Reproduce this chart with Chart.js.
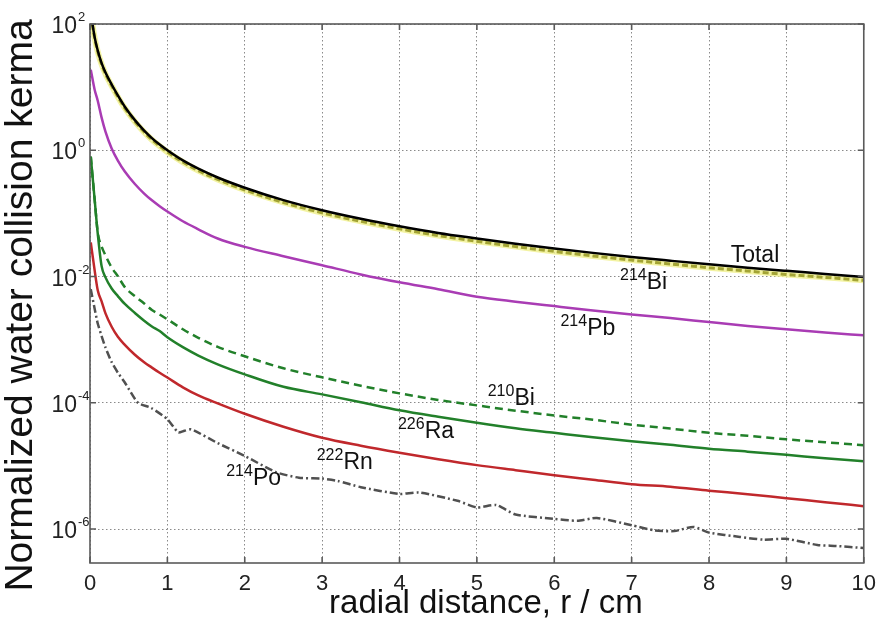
<!DOCTYPE html>
<html>
<head>
<meta charset="utf-8">
<title>Normalized water collision kerma</title>
<script src="https://cdn.jsdelivr.net/npm/chart.js@4.4.0/dist/chart.umd.min.js"></script>
<style>
    html, body { margin: 0; padding: 0; background: #fff; }
</style>
</head>
<body>
<canvas id="kermaChart" width="884" height="624"></canvas>
<script>
// radial distance (cm) sample points for the smooth curves
const radius = [0.01, 0.06, 0.1, 0.15, 0.2, 0.28, 0.36, 0.45, 0.58, 0.7, 0.8, 0.9, 1.0, 1.2, 1.4, 1.65, 2.0, 2.5, 3.0, 3.5, 4.0, 4.5, 5.0, 5.5, 6.0, 6.5, 7.0, 7.5, 8.0, 8.5, 9.0, 9.5, 10.0];

const total = [150, 62, 38, 24, 17, 11, 7.4, 4.9, 3.0, 2.05, 1.56, 1.23, 1.0, 0.69, 0.51, 0.37, 0.255, 0.162, 0.112, 0.082, 0.0625, 0.049, 0.040, 0.033, 0.0278, 0.0237, 0.0204, 0.0178, 0.0156, 0.0138, 0.0123, 0.011, 0.0098];
const bi214 = [140, 60, 36.5, 23, 16.2, 10.5, 7.0, 4.65, 2.85, 1.94, 1.47, 1.16, 0.94, 0.65, 0.475, 0.345, 0.235, 0.149, 0.102, 0.075, 0.057, 0.0446, 0.0362, 0.0298, 0.025, 0.0212, 0.0182, 0.0158, 0.0138, 0.0122, 0.0108, 0.0097, 0.0087];
const pb214 = [18.9, 9.1, 6.1, 3.29, 1.98, 1.07, 0.687, 0.46, 0.292, 0.206, 0.161, 0.130, 0.107, 0.075, 0.056, 0.040, 0.0295, 0.021, 0.0151, 0.0108, 0.0081, 0.0063, 0.0048, 0.0040, 0.0034, 0.0029, 0.0025, 0.0022, 0.0019, 0.00165, 0.00146, 0.0013, 0.00117];
const bi210 = [0.79, 0.166, 0.05, 0.030, 0.0216, 0.0139, 0.0101, 6.8e-3, 4.9e-3, 3.75e-3, 2.96e-3, 2.5e-3, 2.1e-3, 1.46e-3, 1.07e-3, 7.7e-4, 5.45e-4, 3.52e-4, 2.53e-4, 1.86e-4, 1.41e-4, 1.11e-4, 9.1e-5, 7.5e-5, 6.3e-5, 5.4e-5, 4.5e-5, 3.9e-5, 3.35e-5, 3.0e-5, 2.64e-5, 2.37e-5, 2.12e-5];
const ra226 = [0.79, 0.166, 0.048, 0.0146, 9.7e-3, 6.45e-3, 4.9e-3, 3.68e-3, 2.65e-3, 2.0e-3, 1.62e-3, 1.37e-3, 1.09e-3, 7.6e-4, 5.6e-4, 4.07e-4, 2.82e-4, 1.79e-4, 1.36e-4, 1.02e-4, 7.6e-5, 6.0e-5, 4.83e-5, 3.96e-5, 3.35e-5, 2.84e-5, 2.46e-5, 2.16e-5, 1.87e-5, 1.68e-5, 1.5e-5, 1.32e-5, 1.19e-5];
const rn222 = [0.0347, 0.0125, 6.07e-3, 4.03e-3, 2.61e-3, 1.6e-3, 1.11e-3, 8.28e-4, 5.77e-4, 4.38e-4, 3.61e-4, 2.99e-4, 2.51e-4, 1.76e-4, 1.31e-4, 9.8e-5, 6.7e-5, 4.17e-5, 2.79e-5, 2.09e-5, 1.62e-5, 1.28e-5, 1.03e-5, 8.55e-6, 7.13e-6, 6.05e-6, 5.13e-6, 4.68e-6, 4.06e-6, 3.57e-6, 3.08e-6, 2.67e-6, 2.3e-6];

// 214Po is noisy, so it has its own sample points
const poRadius = [0.01, 0.06, 0.1, 0.15, 0.2, 0.28, 0.36, 0.45, 0.62, 0.79, 1.0, 1.14, 1.22, 1.31, 1.65, 2.0, 2.4, 2.7, 3.0, 3.2, 3.5, 4.0, 4.25, 4.75, 5.0, 5.25, 5.5, 6.0, 6.3, 6.55, 7.0, 7.3, 7.55, 7.8, 8.0, 8.4, 8.7, 9.0, 9.4, 9.65, 10.0];
const po214 = [0.0063, 0.0031, 0.0018, 0.00114, 7.5e-4, 4.4e-4, 3.0e-4, 2.1e-4, 1.0e-4, 8.3e-5, 5.5e-5, 3.4e-5, 3.6e-5, 3.8e-5, 2.3e-5, 1.44e-5, 8.0e-6, 6.5e-6, 6.3e-6, 5.8e-6, 4.6e-6, 3.6e-6, 3.8e-6, 2.8e-6, 2.2e-6, 2.4e-6, 1.7e-6, 1.45e-6, 1.35e-6, 1.5e-6, 1.15e-6, 9.5e-7, 9.3e-7, 1.08e-6, 8.8e-7, 7.5e-7, 6.8e-7, 7.0e-7, 5.6e-7, 5.4e-7, 5.0e-7];

// axis ticks
const xTicks = [0, 1, 2, 3, 4, 5, 6, 7, 8, 9, 10];
const yTicks = [1e-6, 1e-4, 1e-2, 1, 100];

// curve labels: mass number, symbol, and where the text sits (data units, left / baseline)
const labelMass = ['', '214', '214', '210', '226', '222', '214'];
const labelSym = ['Total', 'Bi', 'Pb', 'Bi', 'Ra', 'Rn', 'Po'];
const labelR = [8.28, 6.85, 6.08, 5.14, 3.98, 2.93, 1.76];
const labelK = [0.0173, 6.25e-3, 1.19e-3, 9.1e-5, 2.74e-5, 9.0e-6, 4.95e-6];

const xTitle = 'radial distance, r / cm';
const yTitle = 'Normalized water collision kerma';

const FONT = '"Liberation Sans", Arial, Helvetica, sans-serif';

function points(xs, ys) {
    return xs.map((r, i) => ({ x: r, y: ys[i] }));
}

// box, inward tick marks, y labels with exponents, curve labels, axis titles
const framePlugin = {
    id: 'frame',
    afterDraw(chart) {
        const { ctx, chartArea: a, scales: { x, y } } = chart;
        ctx.save();

        ctx.strokeStyle = '#5a5a5a';
        ctx.lineWidth = 1.6;
        ctx.strokeRect(a.left, a.top, a.right - a.left, a.bottom - a.top);

        ctx.beginPath();
        xTicks.forEach(v => {
            const px = x.getPixelForValue(v);
            ctx.moveTo(px, a.bottom); ctx.lineTo(px, a.bottom - 6);
            ctx.moveTo(px, a.top); ctx.lineTo(px, a.top + 6);
        });
        yTicks.forEach(v => {
            const py = y.getPixelForValue(v);
            ctx.moveTo(a.left, py); ctx.lineTo(a.left + 6, py);
            ctx.moveTo(a.right, py); ctx.lineTo(a.right - 6, py);
        });
        ctx.stroke();

        // y tick labels: 10 with a raised exponent
        ctx.fillStyle = '#222';
        ctx.textBaseline = 'alphabetic';
        yTicks.forEach(v => {
            const py = y.getPixelForValue(v);
            ctx.font = '23px ' + FONT;
            ctx.textAlign = 'right';
            ctx.fillText('10', a.left - 13, py + 9);
            ctx.font = '13px ' + FONT;
            ctx.textAlign = 'left';
            ctx.fillText(String(Math.round(Math.log10(v))), a.left - 12, py - 3);
        });

        // isotope labels
        ctx.fillStyle = '#111';
        labelSym.forEach((sym, i) => {
            let px = x.getPixelForValue(labelR[i]);
            const py = y.getPixelForValue(labelK[i]);
            ctx.textAlign = 'left';
            if (labelMass[i]) {
                ctx.font = '16px ' + FONT;
                ctx.fillText(labelMass[i], px, py - 9);
                px += ctx.measureText(labelMass[i]).width;
            }
            ctx.font = '23px ' + FONT;
            ctx.fillText(sym, px, py);
        });

        // axis titles
        ctx.fillStyle = '#111';
        ctx.textAlign = 'center';
        ctx.textBaseline = 'middle';
        ctx.font = '33px ' + FONT;
        ctx.fillText(xTitle, (a.left + a.right) / 2 + 9, 604);

        ctx.translate(21, (a.top + a.bottom) / 2 + 12);
        ctx.rotate(-Math.PI / 2);
        ctx.font = '39px ' + FONT;
        ctx.fillText(yTitle, 0, 0);

        ctx.restore();
    }
};

const ctx = document.getElementById('kermaChart').getContext('2d');
const kermaChart = new Chart(ctx, {
    type: 'line',
    data: {
        datasets: [
            {
                label: 'Total',
                data: points(radius, total),
                borderColor: '#000000',
                borderWidth: 2.5,
                cubicInterpolationMode: 'monotone'
            },
            {
                label: '214Bi',
                data: points(radius, bi214),
                borderColor: '#a3a435',
                borderWidth: 3,
                borderDash: [6, 3],
                cubicInterpolationMode: 'monotone'
            },
            {
                label: '214Bi halo',
                data: points(radius, bi214),
                borderColor: 'rgba(240, 240, 140, 0.8)',
                borderWidth: 6,
                cubicInterpolationMode: 'monotone'
            },
            {
                label: '214Pb',
                data: points(radius, pb214),
                borderColor: '#a93cb4',
                borderWidth: 2.5,
                cubicInterpolationMode: 'monotone'
            },
            {
                label: '210Bi',
                data: points(radius, bi210),
                borderColor: '#22802a',
                borderWidth: 2.5,
                borderDash: [8, 5],
                cubicInterpolationMode: 'monotone'
            },
            {
                label: '226Ra',
                data: points(radius, ra226),
                borderColor: '#22802a',
                borderWidth: 2.5,
                cubicInterpolationMode: 'monotone'
            },
            {
                label: '222Rn',
                data: points(radius, rn222),
                borderColor: '#c0282c',
                borderWidth: 2.5,
                cubicInterpolationMode: 'monotone'
            },
            {
                label: '214Po',
                data: points(poRadius, po214),
                borderColor: '#505050',
                borderWidth: 2.5,
                borderDash: [8, 3, 2, 3],
                tension: 0.2
            }
        ]
    },
    options: {
        responsive: false,
        animation: false,
        events: [],
        elements: {
            point: { radius: 0 }
        },
        layout: {
            padding: { left: 0, right: 16, top: 24, bottom: 0 }
        },
        plugins: {
            legend: { display: false },
            tooltip: { enabled: false }
        },
        scales: {
            x: {
                type: 'linear',
                min: 0,
                max: 10,
                afterFit: s => { s.height = 61; },
                afterBuildTicks: s => { s.ticks = xTicks.map(v => ({ value: v })); },
                grid: { color: '#8a8a8a', lineWidth: 1, drawTicks: false },
                border: { display: false, dash: [1.5, 2.5] },
                ticks: {
                    color: '#222',
                    padding: 8,
                    maxRotation: 0,
                    font: { family: FONT, size: 22 }
                }
            },
            y: {
                type: 'logarithmic',
                min: 2.9e-7,
                max: 100,
                afterFit: s => { s.width = 90; },
                afterBuildTicks: s => { s.ticks = yTicks.map(v => ({ value: v })); },
                grid: { color: '#8a8a8a', lineWidth: 1, drawTicks: false },
                border: { display: false, dash: [1.5, 2.5] },
                ticks: { display: false }
            }
        }
    },
    plugins: [framePlugin]
});
</script>
</body>
</html>
